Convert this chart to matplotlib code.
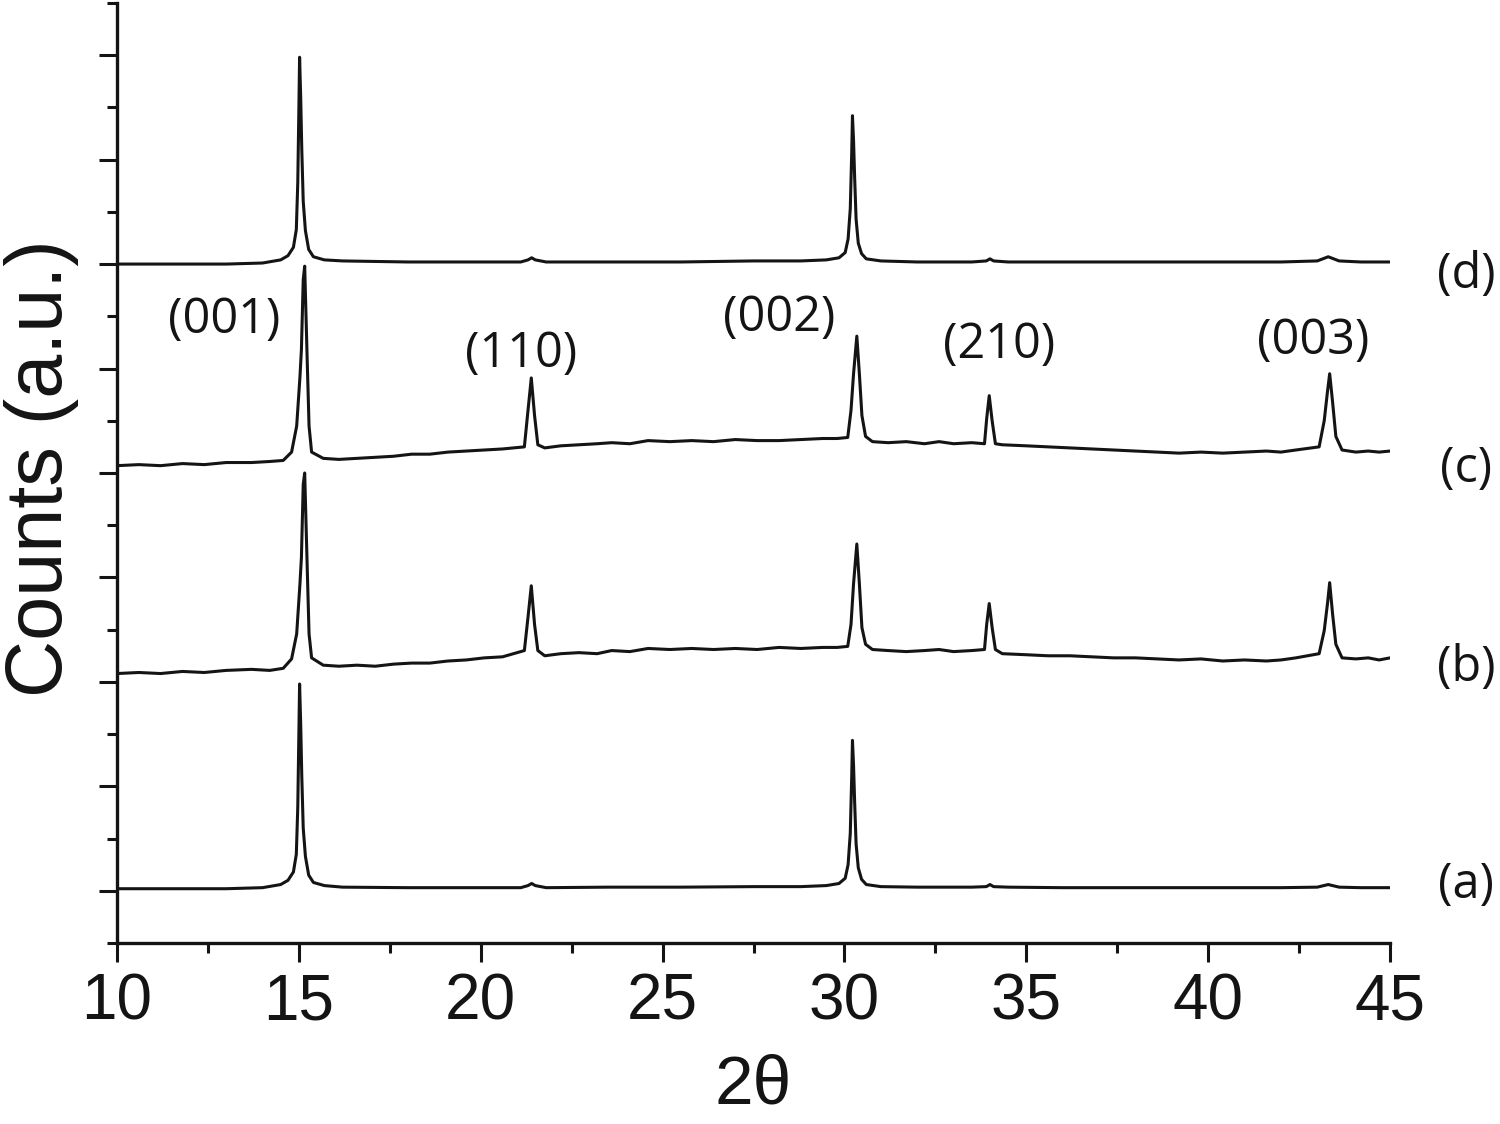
import matplotlib
matplotlib.use("Agg")
import matplotlib.pyplot as plt
from matplotlib.ticker import MultipleLocator, NullFormatter

tt_a = [10.0, 11.5, 13.0, 14.0, 14.5, 14.7, 14.85, 14.93, 14.97, 15.0, 15.02, 15.05,
        15.08, 15.12, 15.18, 15.27, 15.4, 15.7, 16.2, 18.0, 20.0, 21.1, 21.3, 21.4,
        21.5, 21.8, 23.5, 25.5, 27.5, 28.8, 29.5, 29.85, 30.02, 30.1, 30.16, 30.2,
        30.22, 30.25, 30.28, 30.32, 30.38, 30.47, 30.6, 31.0, 32.0, 33.5, 33.9,
        34.0, 34.1, 34.5, 36.0, 38.0, 40.0, 42.0, 43.0, 43.3, 43.6, 44.2, 45.0]
cnt_a = [0.02, 0.02, 0.02, 0.03, 0.06, 0.1, 0.18, 0.35, 0.8, 1.5, 1.98, 1.6,
         1.1, 0.6, 0.33, 0.15, 0.08, 0.05, 0.035, 0.03, 0.03, 0.03, 0.05, 0.07,
         0.05, 0.03, 0.035, 0.035, 0.04, 0.04, 0.05, 0.07, 0.12, 0.25, 0.55, 1.1,
         1.44, 1.2, 0.85, 0.45, 0.22, 0.11, 0.06, 0.04, 0.035, 0.035, 0.04,
         0.06, 0.04, 0.035, 0.03, 0.03, 0.03, 0.03, 0.035, 0.06, 0.035, 0.03, 0.03]

tt_b = [10.0, 10.6, 11.2, 11.8, 12.4, 13.0, 13.7, 14.2, 14.57, 14.8, 14.94, 15.03,
        15.07, 15.12, 15.16, 15.23, 15.28, 15.35, 15.67, 16.1, 16.6, 17.1, 17.6,
        18.1, 18.6, 19.1, 19.6, 20.1, 20.6, 21.2, 21.3, 21.39, 21.48, 21.57, 21.76,
        22.2, 22.7, 23.2, 23.6, 24.1, 24.6, 25.2, 25.8, 26.4, 27.0, 27.6, 28.2,
        28.8, 29.4, 29.8, 30.09, 30.18, 30.25, 30.34, 30.41, 30.48, 30.58, 30.77,
        31.2, 31.7, 32.2, 32.6, 33.0, 33.5, 33.85, 33.91, 33.98, 34.06, 34.15,
        34.34, 35.0, 35.6, 36.2, 36.8, 37.4, 38.0, 38.6, 39.2, 39.8, 40.4, 41.0,
        41.6, 42.0, 42.41, 43.05, 43.19, 43.28, 43.34, 43.42, 43.51, 43.68, 44.06,
        44.4, 44.7, 45.0]
cnt_b = [2.08, 2.09, 2.08, 2.10, 2.09, 2.11, 2.12, 2.11, 2.13, 2.22, 2.46, 2.94,
         3.19, 3.89, 4.0, 3.09, 2.46, 2.23, 2.16, 2.15, 2.16, 2.15, 2.17, 2.18,
         2.18, 2.2, 2.21, 2.23, 2.24, 2.3, 2.62, 2.92, 2.55, 2.3, 2.25, 2.27, 2.28,
         2.27, 2.3, 2.29, 2.32, 2.31, 2.32, 2.31, 2.32, 2.31, 2.33, 2.32, 2.33,
         2.33, 2.34, 2.55, 2.94, 3.32, 2.94, 2.52, 2.36, 2.31, 2.30, 2.29, 2.3,
         2.31, 2.29, 2.3, 2.31, 2.55, 2.75, 2.52, 2.31, 2.27, 2.26, 2.25, 2.25,
         2.24, 2.23, 2.23, 2.22, 2.21, 2.22, 2.2, 2.21, 2.2, 2.21, 2.23, 2.27,
         2.49, 2.75, 2.95, 2.65, 2.36, 2.23, 2.22, 2.23, 2.21, 2.23]

tt_c = [10.0, 10.6, 11.2, 11.8, 12.4, 13.0, 13.7, 14.2, 14.57, 14.8, 14.94, 15.03,
        15.07, 15.12, 15.16, 15.23, 15.28, 15.35, 15.67, 16.1, 16.6, 17.1, 17.6,
        18.1, 18.6, 19.1, 19.6, 20.1, 20.6, 21.2, 21.3, 21.39, 21.48, 21.57, 21.76,
        22.2, 22.7, 23.2, 23.6, 24.1, 24.6, 25.2, 25.8, 26.4, 27.0, 27.6, 28.2,
        28.8, 29.4, 29.8, 30.09, 30.18, 30.25, 30.34, 30.41, 30.48, 30.58, 30.77,
        31.2, 31.7, 32.2, 32.6, 33.0, 33.5, 33.85, 33.91, 33.98, 34.06, 34.15,
        34.34, 35.0, 35.6, 36.2, 36.8, 37.4, 38.0, 38.6, 39.2, 39.8, 40.4, 41.0,
        41.6, 42.0, 42.41, 43.05, 43.19, 43.28, 43.34, 43.42, 43.51, 43.68, 44.06,
        44.4, 44.7, 45.0]
cnt_c = [4.07, 4.08, 4.07, 4.09, 4.08, 4.1, 4.1, 4.11, 4.12, 4.2, 4.45, 4.92,
         5.18, 5.85, 5.98, 5.07, 4.45, 4.2, 4.14, 4.13, 4.14, 4.15, 4.16, 4.18,
         4.18, 4.2, 4.21, 4.22, 4.23, 4.25, 4.6, 4.91, 4.55, 4.27, 4.24, 4.26, 4.27,
         4.28, 4.29, 4.28, 4.31, 4.3, 4.31, 4.3, 4.32, 4.31, 4.31, 4.32, 4.33,
         4.33, 4.34, 4.6, 4.95, 5.31, 4.95, 4.55, 4.35, 4.3, 4.29, 4.3, 4.28,
         4.3, 4.28, 4.29, 4.28, 4.52, 4.74, 4.5, 4.28, 4.27, 4.26, 4.25, 4.24,
         4.23, 4.22, 4.21, 4.2, 4.19, 4.2, 4.19, 4.2, 4.21, 4.2, 4.22, 4.25,
         4.5, 4.78, 4.95, 4.68, 4.35, 4.22, 4.2, 4.21, 4.2, 4.21]

tt_d = [10.0, 11.5, 13.0, 14.0, 14.5, 14.7, 14.85, 14.93, 14.97, 15.0, 15.02, 15.05,
        15.08, 15.12, 15.18, 15.27, 15.4, 15.7, 16.2, 18.0, 20.0, 21.1, 21.3, 21.4,
        21.5, 21.8, 23.5, 25.5, 27.5, 28.8, 29.5, 29.85, 30.02, 30.1, 30.16, 30.2,
        30.22, 30.25, 30.28, 30.32, 30.38, 30.47, 30.6, 31.0, 32.0, 33.5, 33.9,
        34.0, 34.1, 34.5, 36.0, 38.0, 40.0, 42.0, 43.0, 43.3, 43.6, 44.2, 45.0]
cnt_d = [6.0, 6.0, 6.0, 6.01, 6.04, 6.08, 6.16, 6.33, 6.78, 7.48, 7.98, 7.6,
         7.1, 6.6, 6.32, 6.14, 6.07, 6.04, 6.03, 6.02, 6.02, 6.02, 6.04, 6.06,
         6.04, 6.02, 6.02, 6.02, 6.03, 6.03, 6.04, 6.06, 6.11, 6.24, 6.53, 7.07,
         7.42, 7.18, 6.83, 6.43, 6.2, 6.1, 6.05, 6.03, 6.02, 6.02, 6.03,
         6.05, 6.03, 6.02, 6.02, 6.02, 6.02, 6.02, 6.03, 6.07, 6.03, 6.02, 6.02]

sample_labels = ["(a)", "(b)", "(c)", "(d)"]
sample_label_y = [0.05, 2.13, 4.04, 5.89]

peak_labels = ["(001)", "(110)", "(002)", "(210)", "(003)"]
peak_label_x = [12.95, 21.1, 28.2, 34.25, 42.9]
peak_label_y = [5.46, 5.14, 5.48, 5.22, 5.26]

ink = "#141414"

fig = plt.figure(figsize=(15, 11.24), dpi=100)
ax = fig.add_axes([0.078, 0.161, 0.8487, 0.8364])

for tt, cnt in [(tt_a, cnt_a), (tt_b, cnt_b), (tt_c, cnt_c), (tt_d, cnt_d)]:
    ax.plot(tt, cnt, color=ink, lw=2.2, solid_joinstyle="round")

ax.set_xlim(10, 45)
ax.set_ylim(-0.5, 8.5)

for side in ["top", "right"]:
    ax.spines[side].set_visible(False)
for side in ["left", "bottom"]:
    ax.spines[side].set_linewidth(2.4)
    ax.spines[side].set_color(ink)

ax.xaxis.set_major_locator(MultipleLocator(5))
ax.xaxis.set_minor_locator(MultipleLocator(2.5))
ax.yaxis.set_major_locator(MultipleLocator(1))
ax.yaxis.set_minor_locator(MultipleLocator(0.5))
ax.yaxis.set_major_formatter(NullFormatter())
ax.tick_params(axis="x", which="major", direction="out", length=14, width=2.2,
               color=ink, pad=7, labelsize=46, labelcolor=ink)
ax.tick_params(axis="x", which="minor", direction="out", length=7, width=2.2, color=ink)
ax.tick_params(axis="y", which="major", direction="out", length=13, width=2.2, color=ink)
ax.tick_params(axis="y", which="minor", direction="out", length=7, width=2.2, color=ink)
for lab in ax.get_xticklabels():
    lab.set_family("Liberation Sans")

ax.set_xlabel("2θ", fontsize=50, family="Liberation Sans", color=ink)
ax.xaxis.set_label_coords(0.5, -0.117)
ax.set_ylabel("Counts (a.u.)", fontsize=57, family="Liberation Sans", color=ink)
ax.yaxis.set_label_coords(-0.03, 0.505)

for txt, x, y in zip(peak_labels, peak_label_x, peak_label_y):
    ax.text(x, y, txt, fontsize=35, family="Open Sans", color=ink,
            ha="center", va="center")

for txt, y in zip(sample_labels, sample_label_y):
    ax.text(47.1, y, txt, fontsize=35, family="Open Sans", color=ink,
            ha="center", va="center", clip_on=False)

fig.savefig("out.png", dpi=100)
